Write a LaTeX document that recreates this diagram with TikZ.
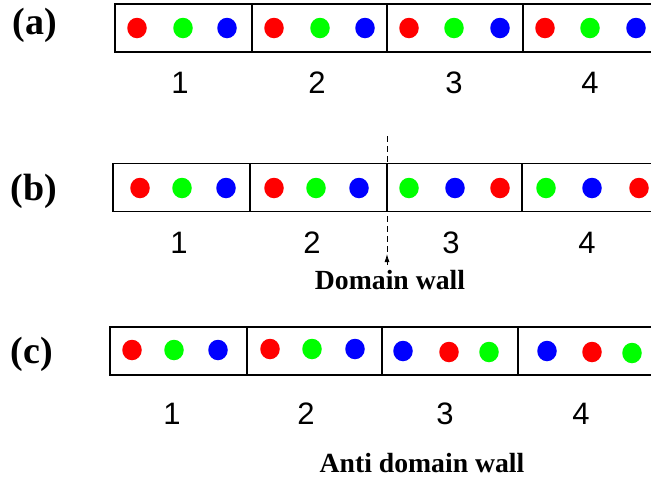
\documentclass[tikz,border=0pt]{standalone}
\usepackage{fontspec}
\setmainfont{Liberation Serif}
\newfontfamily\sansnum{Liberation Sans}
\usetikzlibrary{arrows.meta}
\newcommand\numfont{\sansnum\fontsize{31}{31}\selectfont}
\newcommand\labfont{\bfseries\fontsize{38}{38}\selectfont}
\newcommand\wallfont{\bfseries\fontsize{27.7}{27.7}\selectfont}
\tikzset{
  cell/.style={draw, line width=1.5pt, minimum height=48pt, inner sep=0pt, outer sep=0pt},
  dot/.style={ellipse, fill=#1, minimum width=19.5pt, minimum height=20.5pt, inner sep=0pt},
  num/.style={font=\numfont, inner sep=0pt},
  lab/.style={font=\labfont, inner sep=0pt},
  wall/.style={font=\wallfont, inner sep=0pt},
  wallline/.style={dash pattern=on 6pt off 4pt, line width=0.8pt}
}
\usetikzlibrary{shapes.geometric}
\begin{document}
\begin{tikzpicture}[x=1pt, y=-1pt]
\useasboundingbox (0,0) rectangle (651,480);
\fill[white] (0,0) rectangle (651,480);
\clip (0,0) rectangle (651,480);
% ---------- row (a)
\node[lab] (la) at (35,25) {(a)};
\foreach \l/\r [count=\i] in {115/252, 252/387, 387/523, 523/659}
  \node[cell, minimum width={(\r-\l)*1pt}] (a\i) at ({(\l+\r)/2},28) {};
\foreach \x/\c [count=\i] in {137/red,183/green,227/blue,274/red,320/green,365/blue,409/red,454/green,500/blue,545/red,590/green,636/blue}
  \node[dot=\c] (ad\i) at (\x,28) {};
\foreach \x/\t in {180/1,317/2,454/3,590/4}
  \node[num] (an\t) at (\x,83) {\t};
% ---------- row (b)
\node[lab] (lb) at (34,191) {(b)};
\foreach \l/\r [count=\i] in {113/250, 250/387, 387/522, 522/658}
  \node[cell, minimum width={(\r-\l)*1pt}] (b\i) at ({(\l+\r)/2},187.5) {};
\foreach \x/\c [count=\i] in {140/red,182/green,226/blue,274/red,316/green,359/blue,409/green,455/blue,500/red,546/green,592/blue,639/red}
  \node[dot=\c] (bd\i) at (\x,188) {};
\foreach \x/\t in {179/1,312/2,451/3,587/4}
  \node[num] (bn\t) at (\x,243) {\t};
\coordinate (wtop) at (387,136);
\coordinate (wtip) at (387,254);
\coordinate (wbot) at (387,265);
\draw[wallline] (wtop) -- (wtip);
\draw[{Latex[length=8pt,width=5pt]}-, line width=0.8pt] (wtip) -- (wbot);
\node[wall, anchor=base] (dw) at (390,289) {Domain wall};
% ---------- row (c)
\node[lab] (lc) at (32,354) {(c)};
\foreach \l/\r [count=\i] in {110/247, 247/382, 382/518, 518/654}
  \node[cell, minimum width={(\r-\l)*1pt}] (c\i) at ({(\l+\r)/2},351) {};
\foreach \x/\c/\y [count=\i] in {132/red/350,174/green/350,218/blue/350,270/red/349,312/green/349,355/blue/349,403/blue/351,449/red/352,489/green/352,547/blue/351,592/red/352,632/green/353}
  \node[dot=\c] (cd\i) at (\x,\y) {};
\foreach \x/\t in {172/1,306/2,445/3,581/4}
  \node[num] (cn\t) at (\x,414) {\t};
\node[wall, anchor=base] (adw) at (422,472) {Anti domain wall};
\end{tikzpicture}
\end{document}
